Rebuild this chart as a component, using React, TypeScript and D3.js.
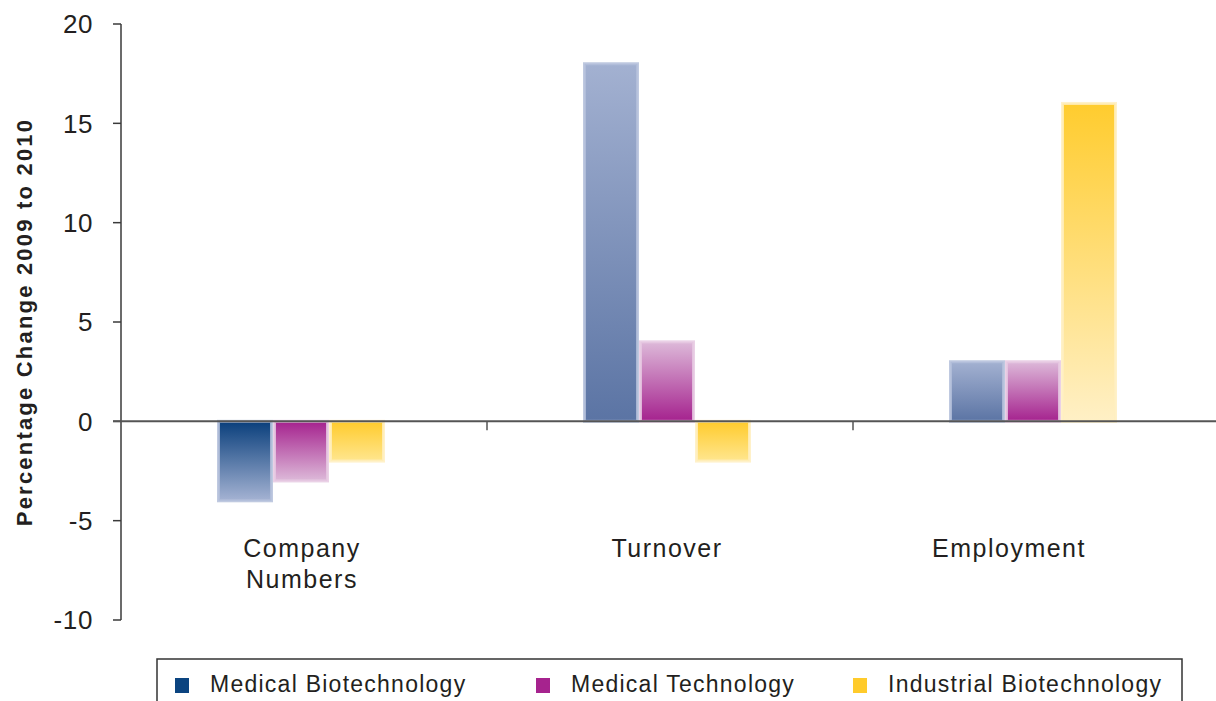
import React from "react";
import * as d3 from "d3";

const categories = ["Company Numbers", "Turnover", "Employment"];
const seriesNames = ["Medical Biotechnology", "Medical Technology", "Industrial Biotechnology"];
const medicalBiotech = [-4, 18, 3];
const medicalTech = [-3, 4, 3];
const industrialBiotech = [-2, -2, 16];
const yTicks = [20, 15, 10, 5, 0, -5, -10];

const seriesValues = [medicalBiotech, medicalTech, industrialBiotech];

const legendColors = ["#0b4480", "#a6238e", "#ffcb2b"];
const strokeColors = ["#b4c0da", "#e6c9e2", "#ffefc0"];
const gradStops = [
  { posTop: "#a3b1d1", posBottom: "#5b74a4", negTop: "#0a3f7c", negBottom: "#a5b3d3" },
  { posTop: "#ddb9d9", posBottom: "#a5228e", negTop: "#a5228e", negBottom: "#ddbad9" },
  { posTop: "#ffcc2e", posBottom: "#fff0c6", negTop: "#ffcb2c", negBottom: "#ffe68f" },
];

const W = 1216;
const H = 701;
const font = "'Liberation Sans', Arial, Helvetica, sans-serif";
const textColor = "#231f20";

export default function App() {
  const x = d3.scaleBand<string>().domain(categories).range([121, 1219]).padding(0);
  const x1 = d3.scaleBand<string>().domain(seriesNames).range([96, 264]).padding(0);
  const y = d3.scaleLinear().domain([-10, 20]).range([620, 24]);
  const legendX = [175, 536, 853];

  return (
    <svg width={W} height={H} style={{ position: "absolute", left: 0, top: 0, background: "#fff" }}>
      <defs>
        {seriesValues.map((vals, si) =>
          vals.map((v, ci) => {
            const g = gradStops[si];
            const top = v >= 0 ? g.posTop : g.negTop;
            const bottom = v >= 0 ? g.posBottom : g.negBottom;
            return (
              <linearGradient key={`g-${si}-${ci}`} id={`g-${si}-${ci}`} x1="0" y1="0" x2="0" y2="1">
                <stop offset="0%" stopColor={top} />
                <stop offset="100%" stopColor={bottom} />
              </linearGradient>
            );
          })
        )}
      </defs>

      {/* bars */}
      {categories.map((c, ci) =>
        seriesNames.map((s, si) => {
          const v = seriesValues[si][ci];
          const x0 = (x(c) as number) + (x1(s) as number);
          const w = x1.bandwidth();
          const yTop = y(Math.max(0, v));
          const yBot = y(Math.min(0, v));
          return (
            <rect
              key={`b-${si}-${ci}`}
              x={x0 + 1.5}
              y={yTop}
              width={w - 3}
              height={yBot - yTop}
              fill={`url(#g-${si}-${ci})`}
              stroke={strokeColors[si]}
              strokeWidth={3}
              strokeOpacity={0.85}
            />
          );
        })
      )}

      {/* y axis */}
      <line x1={121} x2={121} y1={y(20)} y2={y(-10)} stroke="#3a3a3a" strokeWidth={1.5} />
      {yTicks.map((t) => (
        <g key={`t-${t}`}>
          <line x1={113} x2={121} y1={y(t)} y2={y(t)} stroke="#3a3a3a" strokeWidth={1.5} />
          <text
            x={93}
            y={y(t)}
            dy="0.36em"
            textAnchor="end"
            fontFamily={font}
            fontSize={26}
            letterSpacing={0.6}
            fill={textColor}
          >
            {t}
          </text>
        </g>
      ))}

      {/* zero line and category ticks */}
      <line x1={113} x2={W} y1={y(0)} y2={y(0)} stroke="#555" strokeWidth={2} />
      {categories.slice(1).map((c) => (
        <line
          key={`ct-${c}`}
          x1={x(c) as number}
          x2={x(c) as number}
          y1={y(0)}
          y2={y(0) + 9}
          stroke="#555"
          strokeWidth={1.5}
        />
      ))}

      {/* category labels */}
      {categories.map((c) => {
        const cx = (x(c) as number) + (x1.range()[0] + x1.range()[1]) / 2 - (c === "Employment" ? 24 : c === "Company Numbers" ? -1 : 0);
        const words = c === "Company Numbers" ? ["Company", "Numbers"] : [c];
        return (
          <text
            key={`cl-${c}`}
            x={cx}
            y={557}
            textAnchor="middle"
            fontFamily={font}
            fontSize={25}
            letterSpacing={1.5}
            fill={textColor}
          >
            {words.map((wd, i) => (
              <tspan key={i} x={cx} dy={i === 0 ? 0 : 31}>
                {wd}
              </tspan>
            ))}
          </text>
        );
      })}

      {/* y axis title */}
      <text
        transform={`translate(32, ${(y(20) + y(-10)) / 2}) rotate(-90)`}
        textAnchor="middle"
        fontFamily={font}
        fontWeight="bold"
        fontSize={22}
        letterSpacing={2.2}
        fill={textColor}
      >
        Percentage Change 2009 to 2010
      </text>

      {/* legend */}
      <rect x={157} y={659} width={1025} height={80} fill="none" stroke="#333" strokeWidth={1.5} />
      {seriesNames.map((s, si) => (
        <g key={`l-${s}`}>
          <rect x={legendX[si]} y={678} width={14} height={15} fill={legendColors[si]} />
          <text
            x={legendX[si] + 35}
            y={692}
            fontFamily={font}
            fontSize={23}
            letterSpacing={1.25}
            fill={textColor}
          >
            {s}
          </text>
        </g>
      ))}
    </svg>
  );
}
